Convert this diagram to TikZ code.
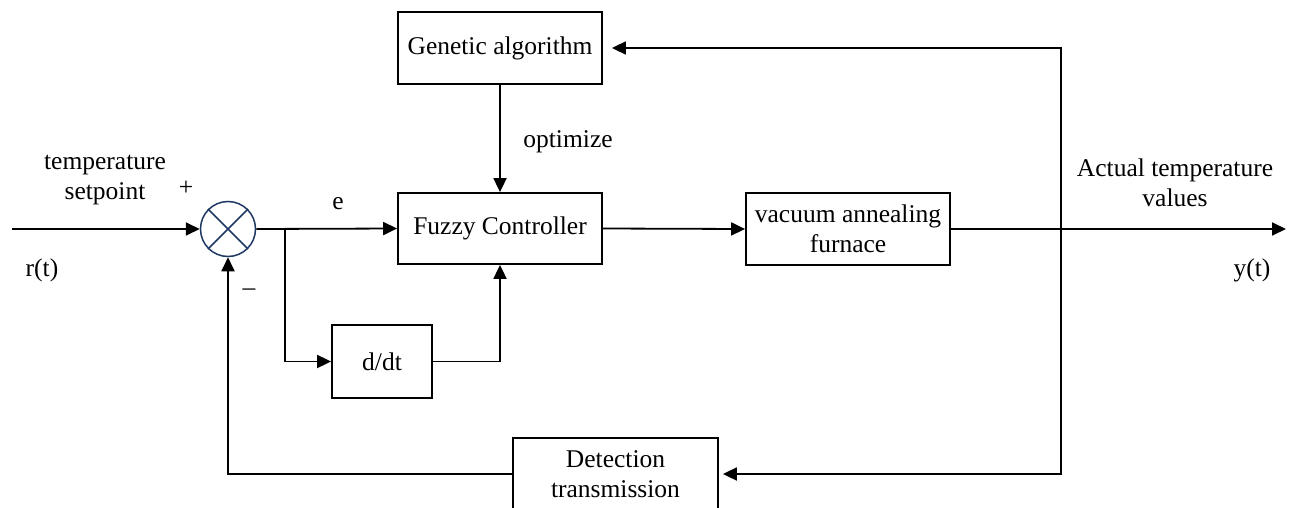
\documentclass[tikz,border=0pt]{standalone}
\usepackage{fontspec}
\setmainfont{Liberation Serif}
\usetikzlibrary{arrows.meta}
\definecolor{sumnavy}{RGB}{31,56,100}
\begin{document}
\begin{tikzpicture}[x=1pt, y=-1pt,
  every node/.style={font=\fontsize{25.5pt}{30pt}\selectfont, inner sep=0pt},
  blk/.style={draw, line width=1.8pt, align=center},
  wire/.style={line width=1.8pt},
  arr/.style={wire, -{Triangle[length=14pt, width=13pt]}},
  lbl/.style={align=center}]
\useasboundingbox (0,0) rectangle (1292,508);

% blocks
\node[blk, minimum width=204pt, minimum height=72pt] (ga) at (500,48) {Genetic algorithm};
\node[blk, minimum width=204pt, minimum height=71pt] (fz) at (500,228.5) {Fuzzy Controller};
\node[blk, minimum width=204pt, minimum height=72pt] (fu) at (848,229) {vacuum annealing\\furnace};
\node[blk, minimum width=100pt, minimum height=73pt] (dd) at (382,361.5) {d/dt};
\node[blk, minimum width=205pt, minimum height=72pt] (dt) at (615.5,474) {Detection\\transmission};

% summing junction
\node[circle, draw=sumnavy, line width=1.5pt, minimum size=55pt] (sum) at (228,229) {};
\draw[sumnavy, line width=1.5pt] (sum.north east) -- (sum.south west)
                                 (sum.north west) -- (sum.south east);

% helper points
\coordinate (in) at (12,229);
\coordinate (br) at (285,229);
\coordinate (tap) at (1061,229);
\coordinate (out) at (1286,229);

% forward path
\draw[arr] (in) -- (sum.west);
\draw[arr] (sum.east) -- (fz.west);
\draw[arr] (br) |- (dd.west);
\draw[arr] (dd.east) -| (fz.south);
\draw[arr] (ga.south) -- (fz.north);
\draw[arr] (fz.east) -- (fu.west);
\draw[arr] (fu.east) -- (out);

% feedback paths
\draw[arr, shorten >=9pt] (tap) |- (ga.east);
\draw[arr, shorten >=4pt] (tap) |- (dt.east);
\draw[arr] (dt.west) -| (sum.south);

% labels
\node[lbl] (tsp) at (105,180) {temperature\\setpoint};
\node (plus) at (186,188) {+};
\node (rt) at (42,270) {r(t)};
\node (minus) at (249,292) {–};
\node (e) at (338,204) {e};
\node (opt) at (568,142) {optimize};
\node[lbl] (atv) at (1175,183) {Actual temperature\\values};
\node (yt) at (1252,270) {y(t)};
\end{tikzpicture}
\end{document}
